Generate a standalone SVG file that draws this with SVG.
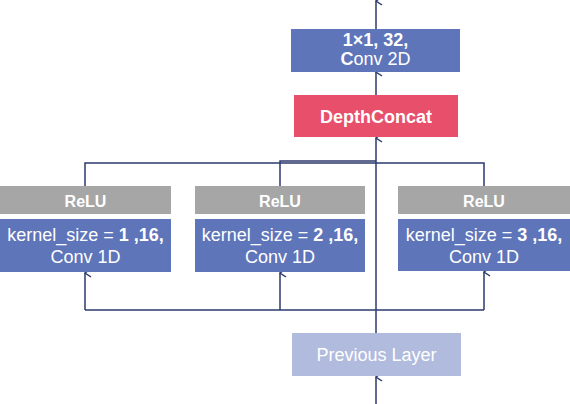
<svg xmlns="http://www.w3.org/2000/svg" width="570" height="404" viewBox="0 0 570 404">
<style>
.t{font-family:"Liberation Sans",Arial,sans-serif;fill:#fff;text-anchor:middle;font-size:18px}
.b{font-weight:bold}
.blue{fill:#5E75BA}
.gray{fill:#A6A6A6}
.ln{fill:none;stroke:#2C3A6E;stroke-width:1.5}
</style>
<defs>
<marker id="ah" markerWidth="10" markerHeight="10" refX="5" refY="1" orient="auto-start-reverse" markerUnits="userSpaceOnUse" viewBox="0 0 10 10">
<path d="M1,7 L5,1 L9,7" fill="none" stroke="#2C3A6E" stroke-width="1.5"/>
</marker>
</defs>
<rect width="570" height="404" fill="#fff"/>
<g id="connectors">
<path class="ln" d="M376,29 V1" marker-end="url(#ah)"/>
<path class="ln" d="M376,95 V72" marker-end="url(#ah)"/>
<path class="ln" d="M376,333 V138" marker-end="url(#ah)"/>
<path class="ln" d="M376,404 V377" marker-end="url(#ah)"/>
<path class="ln" d="M85,186 V163 H376"/>
<path class="ln" d="M280,186 V161 H376"/>
<path class="ln" d="M484,186 V163 H376"/>
<path class="ln" d="M85,310 H484"/>
<path class="ln" d="M85,310 V273" marker-end="url(#ah)"/>
<path class="ln" d="M280,310 V273" marker-end="url(#ah)"/>
<path class="ln" d="M484,310 V272" marker-end="url(#ah)"/>
</g>
<g id="conv2d">
<rect class="blue" x="291" y="29" width="169" height="43"/>
<text class="t b" x="375.5" y="46">1×1, 32,</text>
<text class="t" x="375.5" y="65"><tspan class="b">C</tspan>onv 2D</text>
</g>
<g id="depthconcat">
<rect x="294" y="95" width="164" height="42" fill="#E84F6A"/>
<text class="t b" x="376" y="123">DepthConcat</text>
</g>
<g id="branch1">
<rect class="gray" x="0" y="186" width="171" height="28"/>
<text class="t b" x="85.5" y="207" style="font-size:16px">ReLU</text>
<rect class="blue" x="0" y="219" width="171" height="53"/>
<text class="t" x="85.5" y="241">kernel_size = <tspan class="b">1 ,16,</tspan></text>
<text class="t" x="85.5" y="263">Conv 1D</text>
</g>
<g id="branch2">
<rect class="gray" x="195" y="186" width="170" height="28"/>
<text class="t b" x="280" y="207" style="font-size:16px">ReLU</text>
<rect class="blue" x="195" y="219" width="170" height="53"/>
<text class="t" x="280" y="241">kernel_size = <tspan class="b">2 ,16,</tspan></text>
<text class="t" x="280" y="263">Conv 1D</text>
</g>
<g id="branch3">
<rect class="gray" x="398" y="186" width="172" height="28"/>
<text class="t b" x="484" y="207" style="font-size:16px">ReLU</text>
<rect class="blue" x="398" y="219" width="172" height="52"/>
<text class="t" x="484" y="241">kernel_size = <tspan class="b">3 ,16,</tspan></text>
<text class="t" x="484" y="263">Conv 1D</text>
</g>
<g id="previous">
<rect x="292" y="333" width="169" height="43" fill="#B0BBDE"/>
<text class="t" x="376.5" y="361">Previous Layer</text>
</g>
</svg>
